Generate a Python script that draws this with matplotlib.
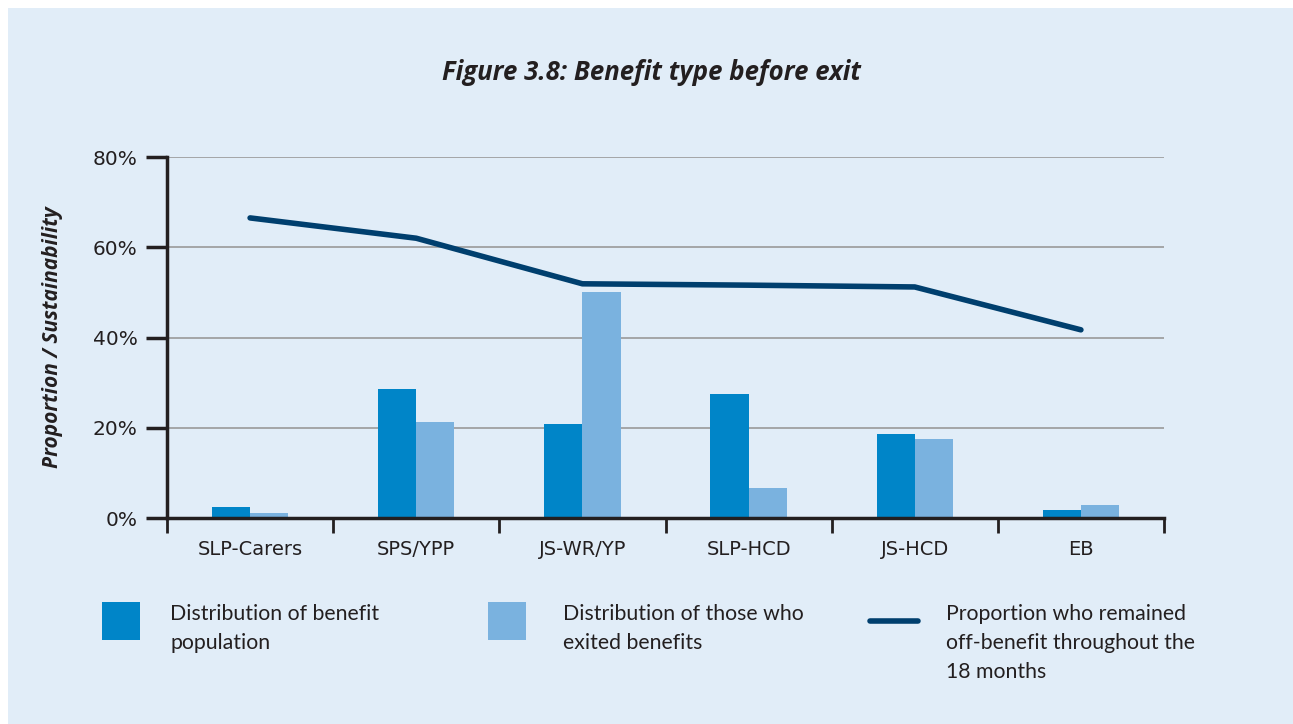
import matplotlib.pyplot as plt
import numpy as np
from matplotlib.patches import Rectangle
from matplotlib.lines import Line2D

categories = ["SLP-Carers", "SPS/YPP", "JS-WR/YP", "SLP-HCD", "JS-HCD", "EB"]
benefit_population = [2.4, 28.6, 20.8, 27.5, 18.6, 1.8]
exited_benefits = [1.1, 21.3, 50.1, 6.6, 17.5, 2.9]
remained_off = [66.5, 62.0, 51.9, 51.6, 51.2, 41.7]
yticks = [0, 20, 40, 60, 80]

dark_blue = "#0085c8"
light_blue = "#7ab2df"
navy = "#003f6e"
panel = "#e1edf8"
axis_col = "#231f20"

W, H = 1293, 724
fig = plt.figure(figsize=(W / 100, H / 100), dpi=100)
fig.patch.set_facecolor("white")
fig.patches.append(Rectangle((8 / W, 0), 1 - 8 / W, 1 - 8 / H, transform=fig.transFigure,
                             facecolor=panel, edgecolor="none", zorder=-10))

ax = fig.add_axes([167 / W, 1 - 518 / H, (1164 - 167) / W, (518 - 157) / H])
ax.set_facecolor("none")

x = np.arange(len(categories))
bw = 0.23
ax.bar(x - bw / 2, benefit_population, bw, color=dark_blue, zorder=3)
ax.bar(x + bw / 2, exited_benefits, bw, color=light_blue, zorder=3)
ax.plot(x, remained_off, color=navy, lw=4, solid_capstyle="round", zorder=4)

ax.set_xlim(-0.5, len(categories) - 0.5)
ax.set_ylim(0, 80)
ax.set_yticks(yticks)
ax.set_yticklabels([f"{v}%" for v in yticks], fontsize=14.5, color=axis_col, family="DejaVu Sans")
ax.set_xticks(x)
ax.set_xticklabels(categories, fontsize=14, color=axis_col, family="DejaVu Sans")
ax.set_xticks(np.arange(len(categories) + 1) - 0.5, minor=True)
ax.tick_params(axis="x", which="major", length=0, pad=16)
ax.tick_params(axis="x", which="minor", length=11, width=2, color=axis_col, direction="out")
ax.tick_params(axis="y", length=15, width=2.5, color=axis_col, pad=6)
for yv in yticks[1:]:
    ax.axhline(yv, color="#9a9a9a", lw=1.2, zorder=1)

for s in ["top", "right"]:
    ax.spines[s].set_visible(False)
ax.spines["left"].set_color(axis_col)
ax.spines["left"].set_linewidth(2.5)
ax.spines["bottom"].set_color(axis_col)
ax.spines["bottom"].set_linewidth(2.5)
ax.spines["bottom"].set_zorder(5)

ax.set_ylabel("Proportion / Sustainability", fontsize=15, fontweight="bold", style="italic",
              color=axis_col, family="Open Sans")
ax.yaxis.set_label_coords(-104 / (1164 - 167), 0.5)

fig.text(651 / W, 1 - 72 / H, "Figure 3.8: Benefit type before exit", ha="center", va="center",
         fontsize=18.5, fontweight="bold", style="italic", color=axis_col, family="Open Sans")

# legend
fig.patches.append(Rectangle((102 / W, 1 - 640 / H), 38 / W, 38 / H, transform=fig.transFigure,
                             facecolor=dark_blue, edgecolor="none"))
fig.patches.append(Rectangle((488 / W, 1 - 640 / H), 38 / W, 38 / H, transform=fig.transFigure,
                             facecolor=light_blue, edgecolor="none"))
fig.lines.append(Line2D([870 / W, 918 / W], [1 - 621 / H, 1 - 621 / H], transform=fig.transFigure,
                        color=navy, lw=4, solid_capstyle="round"))
leg_kw = dict(ha="left", va="top", fontsize=15.3, color=axis_col, family="Lato", linespacing=1.55)
fig.text(170 / W, 1 - 604 / H, "Distribution of benefit\npopulation", **leg_kw)
fig.text(563 / W, 1 - 604 / H, "Distribution of those who\nexited benefits", **leg_kw)
fig.text(946 / W, 1 - 604 / H, "Proportion who remained\noff-benefit throughout the\n18 months", **leg_kw)

fig.savefig("out.png", dpi=100, facecolor=fig.get_facecolor())
